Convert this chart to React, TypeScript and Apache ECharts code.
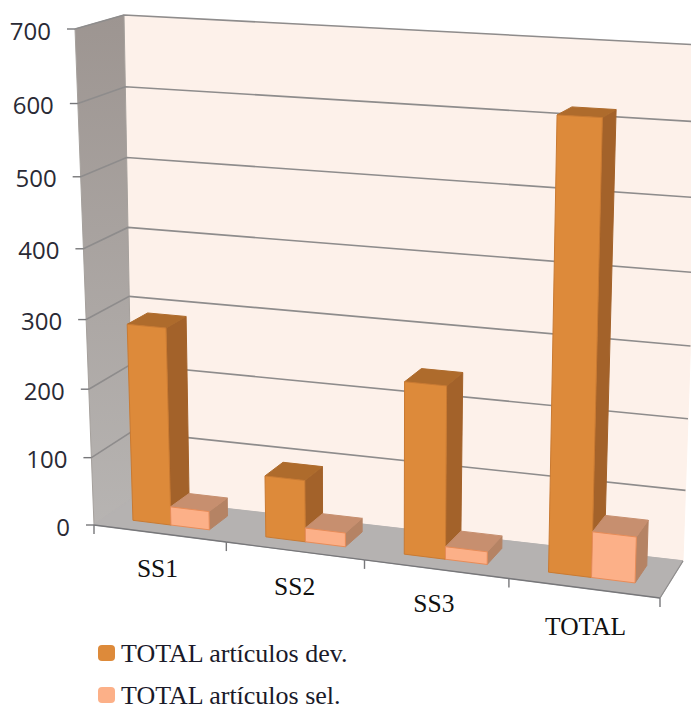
import React, { useEffect, useRef } from "react";
import * as echarts from "echarts";

const categories = ["SS1", "SS2", "SS3", "TOTAL"];
const tickLabels = [0, 100, 200, 300, 400, 500, 600, 700];
const articulosDev = [287, 89, 244, 615];
const articulosSel = [27, 20, 18, 64];
const seriesNames = ["TOTAL artículos dev.", "TOTAL artículos sel."];

type Pt = [number, number];

// Chart box corners on screen: [bottom-left, bottom-right, top-right, top-left]
const FRONT_PLANE: Pt[] = [[94, 525], [660, 598], [677, 58], [75, 29]];
const BACK_PLANE: Pt[] = [[133, 498], [683, 561], [701, 45], [124, 15]];

// Depth of the columns inside the floor, and their span within a category band
const BAR_DEPTH = [0.3, 0.78];
const BAND_START = 0.21;
const BAR_WIDTH = 0.29;

// Category captions sit on a slanted baseline: nudges from the tick midpoint
const CAPTION_NUDGE: Pt[] = [[-2, 35], [0, 36], [-2, 34], [2, 38]];

function squareToQuad(q: Pt[]) {
  const [[x0, y0], [x1, y1], [x2, y2], [x3, y3]] = q;
  const dx1 = x1 - x2, dx2 = x3 - x2, sx = x0 - x1 + x2 - x3;
  const dy1 = y1 - y2, dy2 = y3 - y2, sy = y0 - y1 + y2 - y3;
  const det = dx1 * dy2 - dx2 * dy1;
  const g = (sx * dy2 - dx2 * sy) / det;
  const h = (dx1 * sy - sx * dy1) / det;
  const a = x1 - x0 + g * x1, b = x3 - x0 + h * x3;
  const d = y1 - y0 + g * y1, e = y3 - y0 + h * y3;
  return (u: number, v: number): Pt => {
    const w = g * u + h * v + 1;
    return [(a * u + b * v + x0) / w, (d * u + e * v + y0) / w];
  };
}

const front = squareToQuad(FRONT_PLANE);
const back = squareToQuad(BACK_PLANE);

// Projects band position u, height v (both 0..1) and depth d (0 = front) to the screen
function project(u: number, v: number, d: number): Pt {
  const a = front(u, v), b = back(u, v);
  return [a[0] + (b[0] - a[0]) * d, a[1] + (b[1] - a[1]) * d];
}

// Reads the axis scales: category position and value become fractions of the grid
function toUnit(params: any, api: any, cat: number, value: number) {
  const sys = params.coordSys;
  const [px, py] = api.coord([cat, value]);
  const band = sys.width / categories.length;
  return {
    u: (px - sys.x) / sys.width,
    v: (sys.y + sys.height - py) / sys.height,
    band: band / sys.width,
  };
}

function face(points: Pt[], fill: any, stroke: string) {
  return {
    type: "polygon",
    shape: { points },
    style: { fill, stroke, lineWidth: 1, lineJoin: "round" },
    silent: true,
  };
}

function renderWalls(params: any, api: any) {
  const value = api.value(1) as number;
  const { v } = toUnit(params, api, 0, value);
  const children: any[] = [];
  if (params.dataIndex === 0) {
    children.push(
      face(
        [project(0, 0, 1), project(1, 0, 1), project(1, 1, 1), project(0, 1, 1)],
        "#fdf1ea",
        "#fdf1ea",
      ),
      face(
        [project(0, 0, 0), project(0, 0, 1), project(0, 1, 1), project(0, 1, 0)],
        new echarts.graphic.LinearGradient(0, 0, 0, 1, [
          { offset: 0, color: "#9d9591" },
          { offset: 1, color: "#b7b4b2" },
        ]),
        "#a5a09c",
      ),
      face(
        [project(0, 0, 0), project(1, 0, 0), project(1, 0, 1), project(0, 0, 1)],
        "#b5b2b1",
        "#b5b2b1",
      ),
    );
  }
  const tickEnd = project(0, v, 0);
  const corner = project(0, v, 1);
  const lineColor = value === 0 ? "#77777a" : "#8e8c8c";
  children.push({
    type: "polyline",
    shape: { points: [tickEnd, corner, project(1, v, 1)] },
    style: { fill: "none", stroke: value === 0 ? "#b5b2b1" : lineColor, lineWidth: 1.6 },
    silent: true,
  });
  children.push({
    type: "line",
    shape: { x1: tickEnd[0] - 8, y1: tickEnd[1], x2: tickEnd[0], y2: tickEnd[1] },
    style: { stroke: "#77777a", lineWidth: 1.4 },
    silent: true,
  });
  children.push({
    type: "text",
    style: {
      text: String(value),
      x: tickEnd[0] - 24,
      y: tickEnd[1] + 1,
      fill: "#2a2a35",
      fontSize: 24,
      fontFamily: "Open Sans",
      align: "right",
      verticalAlign: "middle",
    },
    silent: true,
  });
  return { type: "group", children };
}

function renderCategories(params: any, api: any) {
  const idx = api.value(0) as number;
  const { u, band } = toUnit(params, api, idx, 0);
  const start = u - band / 2;
  const children: any[] = [];
  const edges = idx === 0 ? [start, start + band] : [start + band];
  edges.forEach((t) => {
    const p = project(t, 0, 0);
    children.push({
      type: "line",
      shape: { x1: p[0], y1: p[1], x2: p[0], y2: p[1] + 9 },
      style: { stroke: "#77777a", lineWidth: 1.4 },
      silent: true,
    });
  });
  const a = project(start, 0, 0), b = project(start + band, 0, 0);
  children.push({
    type: "line",
    shape: { x1: a[0], y1: a[1], x2: b[0], y2: b[1] },
    style: { stroke: "#77777a", lineWidth: 1.4 },
    silent: true,
  });
  if (idx === categories.length - 1) {
    const c = project(1, 0, 1);
    children.push({
      type: "line",
      shape: { x1: b[0], y1: b[1], x2: c[0], y2: c[1] },
      style: { stroke: "#8e8c8c", lineWidth: 1.2 },
      silent: true,
    });
  }
  const mid = project(u, 0, 0);
  children.push({
    type: "text",
    style: {
      text: categories[idx],
      x: mid[0] + CAPTION_NUDGE[idx][0],
      y: mid[1] + CAPTION_NUDGE[idx][1],
      fill: "#111111",
      fontSize: 25.5,
      fontFamily: "Liberation Serif",
      align: "center",
      verticalAlign: "middle",
    },
    silent: true,
  });
  return { type: "group", children };
}

// A column is a box: its right side and its top are visible from this camera
function barRenderer(slot: number, colors: { front: string; top: string; side: string; edge: string }) {
  return (params: any, api: any) => {
    const idx = api.value(0) as number;
    const value = api.value(1) as number;
    const { u, v, band } = toUnit(params, api, idx, value);
    const start = u - band / 2;
    const u0 = start + band * (BAND_START + BAR_WIDTH * slot);
    const u1 = u0 + band * BAR_WIDTH;
    const [d0, d1] = BAR_DEPTH;
    return {
      type: "group",
      children: [
        face(
          [project(u1, 0, d0), project(u1, 0, d1), project(u1, v, d1), project(u1, v, d0)],
          colors.side,
          colors.side,
        ),
        face(
          [project(u0, v, d0), project(u1, v, d0), project(u1, v, d1), project(u0, v, d1)],
          colors.top,
          colors.top,
        ),
        face(
          [project(u0, 0, d0), project(u1, 0, d0), project(u1, v, d0), project(u0, v, d0)],
          colors.front,
          colors.edge,
        ),
      ],
    };
  };
}

const devColors = { front: "#dd8a3a", top: "#ae6b2c", side: "#a3622a", edge: "#c97a32" };
const selColors = { front: "#fcb088", top: "#c78f6f", side: "#b58364", edge: "#e88c58" };

// One legend per row: the second row would not fit a single vertical box this close to the edge
function legendRow(name: string, top: number) {
  return {
    data: [name],
    left: 98,
    top,
    itemWidth: 17,
    itemHeight: 16,
    padding: 0,
    selectedMode: false,
    textStyle: {
      fontFamily: "Liberation Serif",
      fontSize: 26,
      lineHeight: 26,
      color: "#1a1a2a",
      padding: [0, 0, 0, 1],
    },
  };
}

export default function App() {
  const ref = useRef<HTMLDivElement>(null);

  useEffect(() => {
    const chart = echarts.init(ref.current!, undefined, { renderer: "svg" });
    chart.setOption({
      animation: false,
      backgroundColor: "#ffffff",
      grid: { left: 50, right: 50, top: 50, bottom: 50 },
      xAxis: { type: "category", data: categories, show: false },
      yAxis: { type: "value", min: 0, max: 700, interval: 100, show: false },
      legend: [legendRow(seriesNames[0], 640), legendRow(seriesNames[1], 682)],
      series: [
        {
          type: "custom",
          renderItem: renderWalls,
          data: tickLabels.map((t) => [0, t]),
          silent: true,
          z: 1,
        },
        {
          type: "custom",
          renderItem: renderCategories,
          data: categories.map((_, i) => [i, 0]),
          silent: true,
          z: 2,
        },
        {
          name: seriesNames[0],
          type: "custom",
          renderItem: barRenderer(0, devColors),
          data: articulosDev.map((v, i) => [i, v]),
          itemStyle: { color: devColors.front, borderColor: devColors.edge },
          z: 3,
        },
        {
          name: seriesNames[1],
          type: "custom",
          renderItem: barRenderer(1, selColors),
          data: articulosSel.map((v, i) => [i, v]),
          itemStyle: { color: selColors.front, borderColor: selColors.edge },
          z: 4,
        },
      ],
    });
    return () => chart.dispose();
  }, []);

  return (
    <div
      ref={ref}
      style={{ position: "absolute", left: 0, top: 0, width: 691, height: 709 }}
    />
  );
}
